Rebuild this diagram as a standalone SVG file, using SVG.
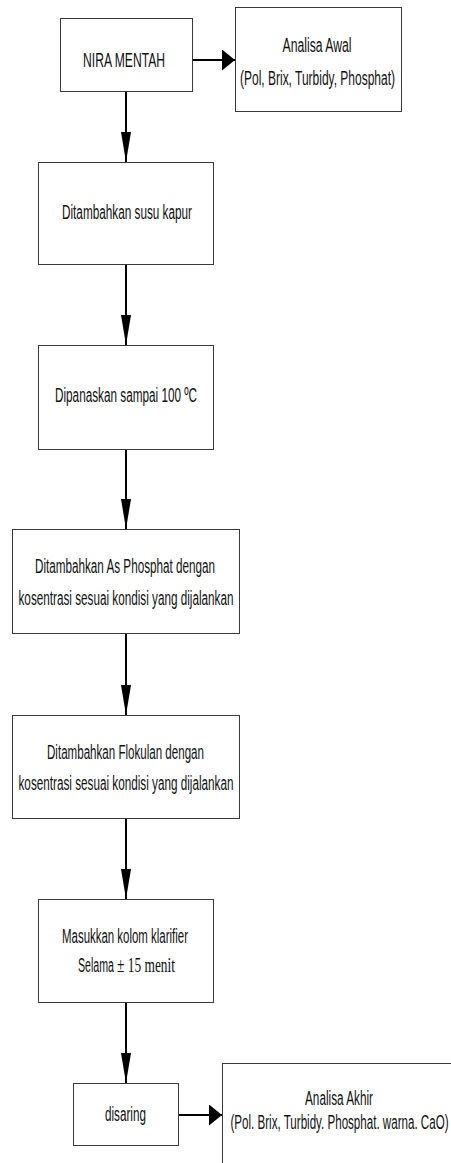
<svg xmlns="http://www.w3.org/2000/svg" width="451" height="1163" viewBox="0 0 451 1163">
<style>
.box{fill:#fff;stroke:#3a3a3a;stroke-width:1}
.t{font-family:"Liberation Sans",Arial,sans-serif;font-size:20px;fill:#111;text-anchor:middle}
.ser{font-family:"Liberation Serif","Times New Roman",serif;font-size:20px;fill:#111}
.c{stroke:#000;stroke-width:2;fill:none}
</style>
<defs>
<marker id="av" markerUnits="userSpaceOnUse" markerWidth="31" markerHeight="10" refX="30" refY="5" orient="auto" viewBox="0 0 31 10">
<path d="M0,0 L30,5 L0,10 z" fill="#000"/>
</marker>
<marker id="ah" markerUnits="userSpaceOnUse" markerWidth="14" markerHeight="21" refX="13" refY="10.5" orient="auto" viewBox="0 0 14 21">
<path d="M0,0 L13,10.5 L0,21 z" fill="#000"/>
</marker>
</defs>
<g id="connectors">
<line class="c" x1="192" y1="60" x2="235" y2="60" marker-end="url(#ah)"/>
<line class="c" x1="126" y1="91" x2="126" y2="162" marker-end="url(#av)"/>
<line class="c" x1="126" y1="264" x2="126" y2="345" marker-end="url(#av)"/>
<line class="c" x1="126" y1="449" x2="126" y2="529" marker-end="url(#av)"/>
<line class="c" x1="126" y1="633" x2="126" y2="715" marker-end="url(#av)"/>
<line class="c" x1="126" y1="818" x2="126" y2="899" marker-end="url(#av)"/>
<line class="c" x1="126" y1="1002" x2="126" y2="1083" marker-end="url(#av)"/>
<line class="c" x1="178" y1="1115" x2="222" y2="1115" marker-end="url(#ah)"/>
</g>
<g id="nira">
<rect class="box" x="60.5" y="18.5" width="132" height="73"/>
<text class="t" x="124" y="67" textLength="82" lengthAdjust="spacingAndGlyphs">NIRA MENTAH</text>
</g>
<g id="analisa-awal">
<rect class="box" x="235.5" y="7.5" width="166" height="104"/>
<text class="t" x="317" y="52" textLength="69" lengthAdjust="spacingAndGlyphs">Analisa Awal</text>
<text class="t" x="317.5" y="85" textLength="155" lengthAdjust="spacingAndGlyphs">(Pol, Brix, Turbidy, Phosphat)</text>
</g>
<g id="susu-kapur">
<rect class="box" x="38.5" y="162.5" width="175" height="102"/>
<text class="t" x="127" y="219" textLength="130" lengthAdjust="spacingAndGlyphs">Ditambahkan susu kapur</text>
</g>
<g id="dipanaskan">
<rect class="box" x="38.5" y="345.5" width="175" height="104"/>
<text class="t" x="126" y="402" textLength="142" lengthAdjust="spacingAndGlyphs">Dipanaskan sampai 100 ºC</text>
</g>
<g id="as-phosphat">
<rect class="box" x="12.5" y="529.5" width="227" height="104"/>
<text class="t" x="125" y="573" textLength="180" lengthAdjust="spacingAndGlyphs">Ditambahkan As Phosphat dengan</text>
<text class="t" x="126" y="605" textLength="215" lengthAdjust="spacingAndGlyphs">kosentrasi sesuai kondisi yang dijalankan</text>
</g>
<g id="flokulan">
<rect class="box" x="12.5" y="715.5" width="227" height="103"/>
<text class="t" x="125.5" y="759" textLength="157" lengthAdjust="spacingAndGlyphs">Ditambahkan Flokulan dengan</text>
<text class="t" x="126" y="790" textLength="215" lengthAdjust="spacingAndGlyphs">kosentrasi sesuai kondisi yang dijalankan</text>
</g>
<g id="klarifier">
<rect class="box" x="38.5" y="899.5" width="175" height="103"/>
<text class="t" x="125" y="943" textLength="126" lengthAdjust="spacingAndGlyphs">Masukkan kolom klarifier</text>
<text class="t" x="96" y="972" textLength="36" lengthAdjust="spacingAndGlyphs">Selama</text>
<text class="ser" x="117" y="972" textLength="58" lengthAdjust="spacingAndGlyphs">± 15 menit</text>
</g>
<g id="disaring">
<rect class="box" x="73.5" y="1083.5" width="105" height="62"/>
<text class="t" x="125.5" y="1120.5" textLength="41" lengthAdjust="spacingAndGlyphs">disaring</text>
</g>
<g id="analisa-akhir">
<rect class="box" x="222.5" y="1063.5" width="250" height="140"/>
<text class="t" x="339" y="1105" textLength="68" lengthAdjust="spacingAndGlyphs">Analisa Akhir</text>
<text class="t" x="339.5" y="1129" textLength="218" lengthAdjust="spacingAndGlyphs">(Pol. Brix, Turbidy. Phosphat. warna. CaO)</text>
</g>
</svg>
